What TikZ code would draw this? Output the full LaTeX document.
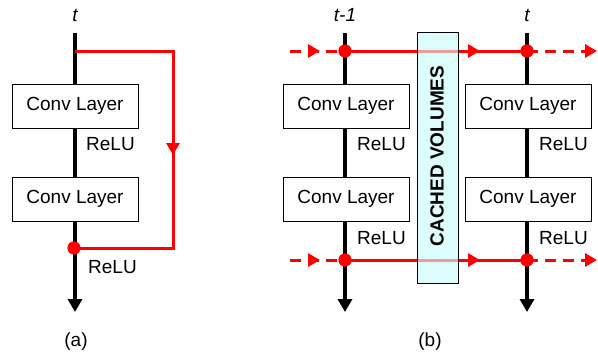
\documentclass[tikz,border=0pt]{standalone}
\usepackage{fontspec}
\setmainfont{Liberation Sans}
\usetikzlibrary{arrows.meta,decorations.markings}
\definecolor{cachecol}{RGB}{221,252,252}
\begin{document}
\begin{tikzpicture}[x=1pt,y=-1pt,
  blk/.style={line width=4pt,-{Triangle[width=14pt,length=13pt]}},
  conv/.style={draw,fill=white,line width=0.9pt,minimum width=126pt,minimum height=44pt,inner sep=0pt,font=\fontsize{19}{22}\selectfont},
  lbl/.style={inner sep=0pt,font=\fontsize{19}{22}\selectfont},
  relu/.style={lbl,anchor=west},
  redl/.style={draw=red,line width=3pt},
  reddash/.style={redl,dash pattern=on 11pt off 7pt},
  reddot/.style={circle,fill=red,inner sep=0pt,minimum size=13pt},
  midarr/.style={postaction={decorate},decoration={markings,mark=at position #1 with {\arrow{Triangle[width=13pt,length=12pt]}}}},
  endarr/.style={-{Triangle[width=13pt,length=12pt]}},
  cachebox/.style={line width=0.9pt,fill=cachecol,minimum width=41pt,minimum height=251pt,inner sep=0pt},
]
\useasboundingbox (0,0) rectangle (598,356);

% ---------- (a) ----------
\coordinate (aTop) at (75,33);
\coordinate (aBot) at (75,312);
\draw[blk] (aTop) -- (aBot);
\node[conv] (a1) at (75,106) {Conv Layer};
\node[conv] (a2) at (75,199) {Conv Layer};
\node[relu] (ar1) at (86,144) {ReLU};
\node[relu] (ar2) at (88,267) {ReLU};
\node[lbl] (at) at (75,15) {\itshape t};
\coordinate (aS) at (75,51);
\coordinate (aC) at (173,248);
\node[reddot] (ad) at (74,248) {};
\draw[redl,line join=miter,midarr=202pt] (aS) -| (aC) -- (ad.center);
\node[reddot] at (ad) {};
\node[lbl] (alab) at (76,342) {(a)};

% ---------- (b) ----------
\coordinate (bTop1) at (345,33);
\coordinate (bBot1) at (345,312);
\coordinate (bTop2) at (527,33);
\coordinate (bBot2) at (527,312);
\draw[blk] (bTop1) -- (bBot1);
\draw[blk] (bTop2) -- (bBot2);
\node[conv] (b1) at (346,106) {Conv Layer};
\node[conv] (b2) at (346,199) {Conv Layer};
\node[conv] (b3) at (528,106) {Conv Layer};
\node[conv] (b4) at (528,199) {Conv Layer};
\node[relu] (br1) at (357,144) {ReLU};
\node[relu] (br2) at (357,238) {ReLU};
\node[relu] (br3) at (539,144) {ReLU};
\node[relu] (br4) at (539,238) {ReLU};
\node[lbl] (bt1) at (345,15) {\itshape t-1};
\node[lbl] (bt2) at (527,15) {\itshape t};

% cached volumes (opaque background)
\node[cachebox] (cache) at (437.5,157.5) {};

% red top
\coordinate (tL) at (290,51);
\coordinate (tR) at (597,51);
\node[reddot] (td1) at (345,51) {};
\node[reddot] (td2) at (527,51) {};
\draw[reddash,midarr=30pt] (tL) -- (td1.center);
\draw[redl,midarr=135pt] (td1.center) -- (td2.center);
\draw[reddash,endarr] (td2.center) -- (tR);
% red bottom
\coordinate (uL) at (290,260);
\coordinate (uR) at (597,260);
\node[reddot] (ud1) at (345,260) {};
\node[reddot] (ud2) at (527,260) {};
\draw[reddash,midarr=30pt] (uL) -- (ud1.center);
\draw[redl,midarr=135pt] (ud1.center) -- (ud2.center);
\draw[reddash,endarr] (ud2.center) -- (uR);
\node[reddot] at (td1) {};
\node[reddot] at (td2) {};
\node[reddot] at (ud1) {};
\node[reddot] at (ud2) {};

% cached volumes overlay
\node[cachebox,draw,fill opacity=0.62] at (cache) {};
\node[lbl,rotate=90,font=\bfseries\fontsize{19}{22}\selectfont] (cachetxt) at (437,156) {CACHED VOLUMES};
\node[lbl] (blab) at (430,342) {(b)};
\end{tikzpicture}
\end{document}
